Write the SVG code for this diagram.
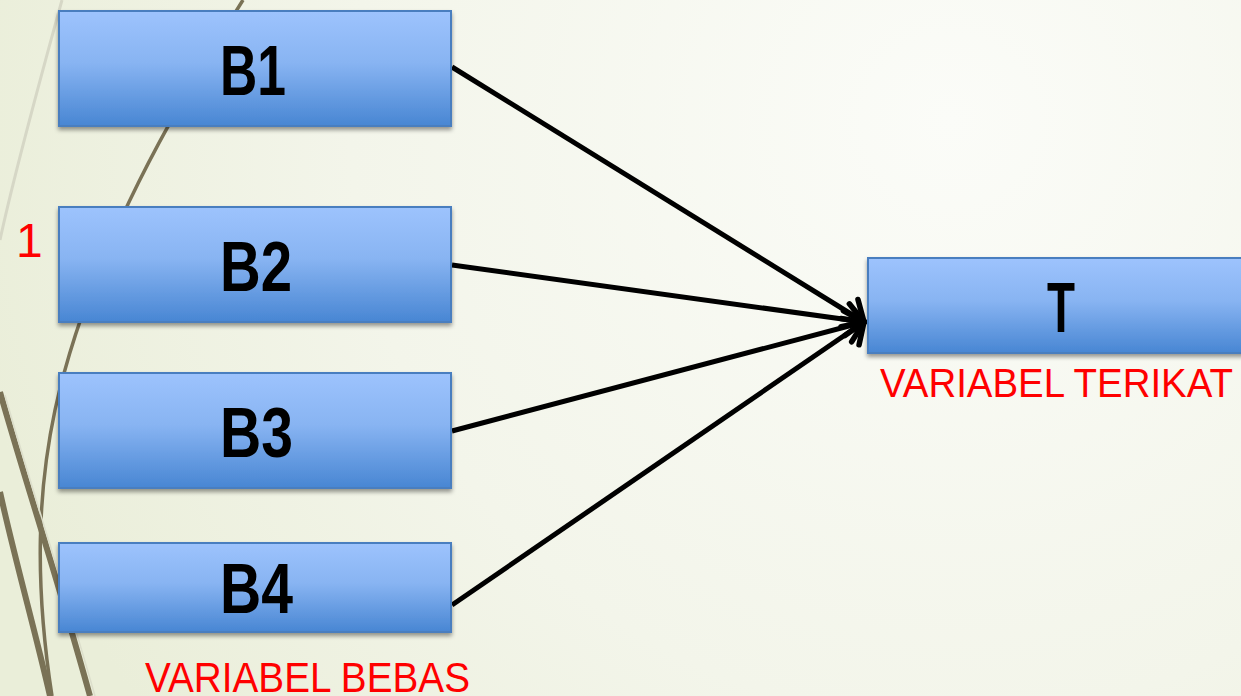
<svg xmlns="http://www.w3.org/2000/svg" width="1241" height="696" viewBox="0 0 1241 696">
<style>
.box{fill:url(#boxg);stroke:#4a7ebf;stroke-width:2;filter:url(#sh)}
.lbl{font-family:"Liberation Sans","DejaVu Sans",sans-serif;font-weight:bold;font-size:70px;fill:#000}
.red{font-family:"Liberation Sans","DejaVu Sans",sans-serif;fill:#ff0000}
.conn{stroke:#000;stroke-width:5;fill:none;marker-end:url(#ah)}
.deco{fill:none;stroke:#7a7256}
</style>
<defs>
<radialGradient id="bg" cx="950" cy="120" r="1000" gradientUnits="userSpaceOnUse">
<stop offset="0" stop-color="#fbfcf8"/>
<stop offset="0.6" stop-color="#f3f5ea"/>
<stop offset="1" stop-color="#eaeed9"/>
</radialGradient>
<linearGradient id="boxg" x1="0" y1="0" x2="0" y2="1">
<stop offset="0" stop-color="#9dc3fd"/>
<stop offset="0.45" stop-color="#88b4f2"/>
<stop offset="1" stop-color="#4886d3"/>
</linearGradient>
<filter id="sh" x="-5%" y="-10%" width="110%" height="130%">
<feDropShadow dx="0" dy="3" stdDeviation="2" flood-color="#000" flood-opacity="0.4"/>
</filter>
<marker id="ah" markerUnits="userSpaceOnUse" markerWidth="40" markerHeight="40" refX="24" refY="20" orient="auto">
<path d="M7,4 L24,20 L7,36" fill="none" stroke="#000" stroke-width="5.5" stroke-linecap="round" stroke-linejoin="miter"/>
</marker>
</defs>
<rect width="1241" height="696" fill="url(#bg)"/>
<g id="decor">
<path d="M62,0 C40,80 15,170 0,240" fill="none" stroke="#d6d7c6" stroke-width="3"/>
<path class="deco" stroke-width="3.5" d="M243,0 C180,100 90,250 55,410 C38,490 34,580 52,696"/>
<path class="deco" stroke-width="6" d="M0,392 C25,480 55,570 90,696"/>
<path class="deco" stroke-width="6" d="M0,492 C15,560 35,630 50,696"/>
<path d="M5,395 C29,480 59,570 95,696" fill="none" stroke="#dcdecb" stroke-width="1.5"/>
</g>
<g id="connectors">
<line class="conn" x1="452" y1="67" x2="864" y2="322"/>
<line class="conn" x1="452" y1="265" x2="864" y2="322"/>
<line class="conn" x1="452" y1="431" x2="864" y2="322"/>
<line class="conn" x1="452" y1="605" x2="864" y2="322"/>
</g>
<g id="B1">
<rect class="box" x="59" y="11" width="392" height="115"/>
<text class="lbl" x="220" y="95" textLength="66" lengthAdjust="spacingAndGlyphs">B1</text>
</g>
<g id="B2">
<rect class="box" x="59" y="207" width="392" height="115"/>
<text class="lbl" x="220" y="291" textLength="72" lengthAdjust="spacingAndGlyphs">B2</text>
</g>
<g id="B3">
<rect class="box" x="59" y="373" width="392" height="115"/>
<text class="lbl" x="220" y="457" textLength="73" lengthAdjust="spacingAndGlyphs">B3</text>
</g>
<g id="B4">
<rect class="box" x="59" y="543" width="392" height="89"/>
<text class="lbl" x="220" y="613" textLength="73" lengthAdjust="spacingAndGlyphs">B4</text>
</g>
<g id="T">
<rect class="box" x="868" y="258" width="380" height="95"/>
<text class="lbl" x="1047" y="332" textLength="28" lengthAdjust="spacingAndGlyphs">T</text>
</g>
<text class="red" x="16" y="257" font-size="48">1</text>
<text class="red" x="145" y="692" font-size="42" textLength="325" lengthAdjust="spacingAndGlyphs">VARIABEL BEBAS</text>
<text class="red" x="880" y="397" font-size="40" textLength="353" lengthAdjust="spacingAndGlyphs">VARIABEL TERIKAT</text>
</svg>
